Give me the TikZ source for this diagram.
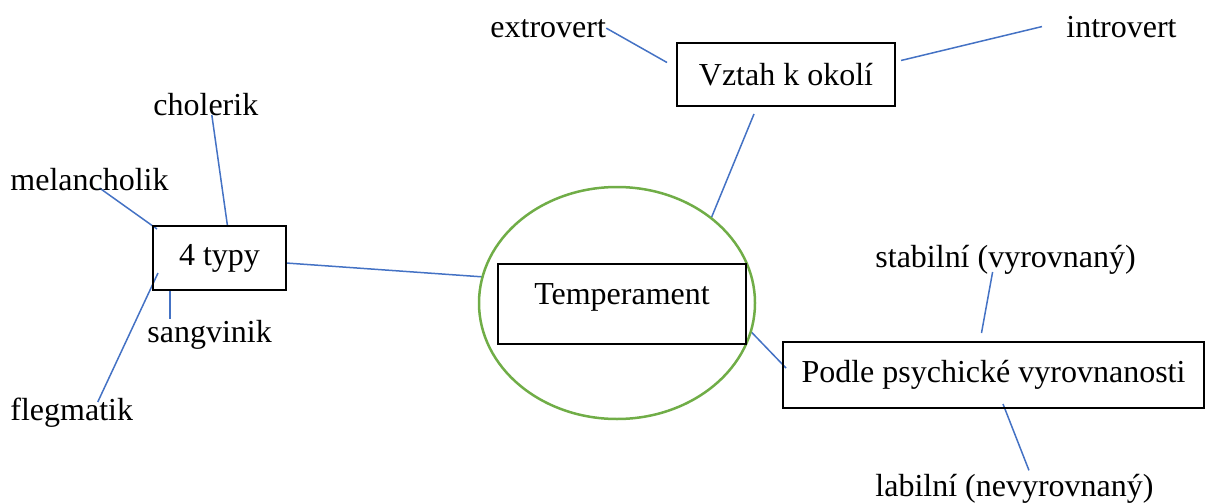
\documentclass[tikz,border=0pt]{standalone}
\usepackage{fontspec}
\setmainfont{Liberation Serif}
\usetikzlibrary{shapes.geometric}
\pgfdeclarelayer{edgelayer}
\pgfdeclarelayer{nodelayer}
\pgfsetlayers{edgelayer,nodelayer,main}
\definecolor{linkblue}{HTML}{4472C4}
\definecolor{ringgreen}{HTML}{70AD47}
\tikzstyle{edge}=[draw=linkblue, line width=0.75pt]
\tikzstyle{box}=[rectangle, draw=black, line width=0.9pt, inner sep=0pt, outer sep=0pt]
\tikzstyle{word}=[inner sep=0pt, anchor=base west]
\tikzstyle{ring}=[ellipse, draw=ringgreen, line width=1.25pt, inner sep=0pt, outer sep=0pt]

\begin{document}
\begin{tikzpicture}[x=0.5pt, y=-0.5pt, font=\fontsize{16pt}{19pt}\selectfont]
			\useasboundingbox (0, 0) rectangle (1206, 503);
			\begin{pgfonlayer}{nodelayer}
			\node [style=ring, minimum width=138pt, minimum height=116pt] (circ) at (617, 303) {};
			\node [style=box, minimum width=124pt, text height=20pt, text depth=20pt] (temper) at (622, 304) {Temperament};
			\node [style=box, minimum width=109pt, minimum height=31.5pt] (vztah) at (786, 74.5) {Vztah k okolí};
			\node [style=box, minimum width=66.5pt, minimum height=32pt] (typy) at (219.5, 258) {4 typy};
			\node [style=box, minimum width=210.5pt, minimum height=33pt] (podle) at (993.5, 375) {Podle psychické vyrovnanosti};
			\node [style=word] (extro) at (490, 37) {extrovert};
			\node [style=word] (intro) at (1066, 37) {introvert};
			\node [style=word] (chol) at (153, 115) {cholerik};
			\node [style=word] (mel) at (10, 190) {melancholik};
			\node [style=word] (sang) at (147, 342) {sangvinik};
			\node [style=word] (fleg) at (10, 420) {flegmatik};
			\node [style=word] (stab) at (875, 267) {stabilní (vyrovnaný)};
			\node [style=word] (lab) at (875, 496) {labilní (nevyrovnaný)};
			\end{pgfonlayer}
			\begin{pgfonlayer}{edgelayer}
			\draw [style=edge] (extro.east) to ([xshift=-5pt, yshift=6pt]vztah.west);
			\draw [style=edge] ([xshift=-12pt]intro.west) to ([xshift=3pt, yshift=7pt]vztah.east);
			\draw [style=edge] ([xshift=-16pt, yshift=-4pt]vztah.south) to (circ.42);
			\draw [style=edge] ([xshift=3pt]chol.base) to ([xshift=4pt]typy.north);
			\draw [style=edge] ([xshift=5pt, yshift=1pt]mel.base) to ([xshift=2pt, yshift=-1.5pt]typy.north west);
			\draw [style=edge] ([xshift=8.5pt, yshift=-0.5pt]typy.south west) to ([xshift=11.5pt]sang.north west);
			\draw [style=edge] ([xshift=2.5pt, yshift=-7.5pt]typy.west) to ([xshift=13pt, yshift=-2.5pt]fleg.north);
			\draw [style=edge] ([yshift=-2.5pt]typy.east) to (circ.169);
			\draw [style=edge] (circ.-12) to ([xshift=1.5pt, yshift=3.5pt]podle.west);
			\draw [style=edge] ([xshift=-6.5pt, yshift=-2.5pt]stab.base) to ([xshift=-6pt, yshift=4.5pt]podle.north);
			\draw [style=edge] ([xshift=4.75pt, yshift=2pt]podle.south) to ([xshift=7.25pt, yshift=1.5pt]lab.north);
			\end{pgfonlayer}
\end{tikzpicture}
\end{document}
